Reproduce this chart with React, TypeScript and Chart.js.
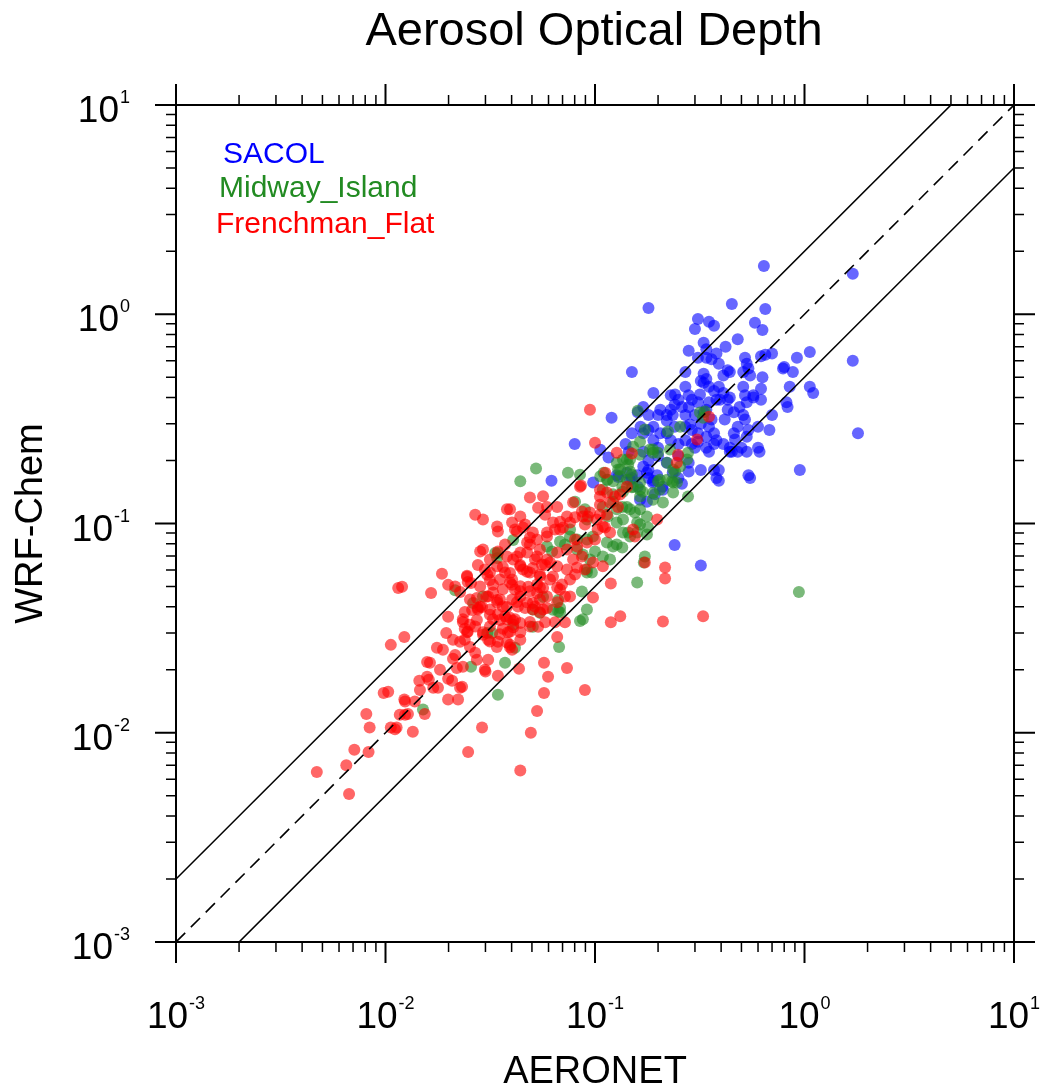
import React, { useEffect, useRef } from "react";
import { Chart, registerables } from "chart.js";

Chart.register(...registerables);

const TITLE = "Aerosol Optical Depth";
const X_TITLE = "AERONET";
const Y_TITLE = "WRF-Chem";
const AXIS_MIN = 0.001;
const AXIS_MAX = 10;
const TICK_EXPONENTS = ["-3", "-2", "-1", "0", "1"];
const MINOR_MULTIPLIERS = [2, 3, 4, 5, 6, 7, 8, 9];

const SITE_NAMES = ["SACOL", "Midway_Island", "Frenchman_Flat"];
const SITE_TEXT_COLORS = ["rgb(0,0,255)", "rgb(34,139,34)", "rgb(255,0,0)"];
const SITE_FILL_COLORS = ["rgba(0,0,255,0.6)", "rgba(34,139,34,0.6)", "rgba(255,0,0,0.6)"];

// [AERONET, WRF-Chem]
const SACOL: [number, number][] = [
  [0.64, 1.70], [1.70, 1.56], [0.45, 1.12], [0.18, 1.07], [0.65, 1.06], [0.31, 0.95], [0.35, 0.92], [0.37, 0.88],
  [0.30, 0.85], [0.58, 0.91], [0.63, 0.84], [0.48, 0.76], [0.33, 0.73], [0.42, 0.70], [0.28, 0.67], [0.34, 0.68],
  [1.06, 0.66], [0.92, 0.62], [0.62, 0.63], [0.65, 0.64], [0.70, 0.65], [0.52, 0.62], [0.31, 0.62], [0.36, 0.61],
  [0.38, 0.65], [0.34, 0.62], [0.39, 0.58], [0.43, 0.54], [0.53, 0.58], [1.70, 0.60], [0.80, 0.56], [0.88, 0.53],
  [0.15, 0.53], [0.27, 0.53], [0.33, 0.52], [0.34, 0.49], [0.32, 0.48], [0.41, 0.51], [0.44, 0.53], [0.51, 0.53],
  [0.55, 0.51], [0.54, 0.55], [0.63, 0.50], [0.79, 0.55], [1.06, 0.45], [1.10, 0.42], [0.85, 0.45], [0.62, 0.44],
  [0.52, 0.41], [0.57, 0.41], [0.19, 0.42], [0.23, 0.41], [0.82, 0.38], [0.83, 0.36], [0.62, 0.39], [0.70, 0.33],
  [0.68, 0.28], [0.60, 0.29], [0.12, 0.32], [0.08, 0.24], [1.80, 0.27], [0.95, 0.18], [0.54, 0.17], [0.55, 0.165],
  [0.39, 0.18], [0.39, 0.16], [0.60, 0.23], [0.61, 0.22], [0.50, 0.23], [0.45, 0.22], [0.32, 0.18], [0.32, 0.063],
  [0.062, 0.16], [0.24, 0.079], [0.27, 0.45], [0.28, 0.41], [0.25, 0.39], [0.26, 0.36], [0.29, 0.39], [0.31, 0.38],
  [0.33, 0.47], [0.35, 0.45], [0.37, 0.43], [0.39, 0.45], [0.41, 0.42], [0.38, 0.39], [0.43, 0.39], [0.44, 0.40],
  [0.51, 0.45], [0.53, 0.38], [0.57, 0.40], [0.49, 0.36], [0.51, 0.33], [0.43, 0.35], [0.46, 0.34], [0.35, 0.38],
  [0.34, 0.35], [0.33, 0.34], [0.28, 0.36], [0.30, 0.33], [0.27, 0.33], [0.24, 0.37], [0.23, 0.35], [0.235, 0.33],
  [0.205, 0.35], [0.20, 0.33], [0.22, 0.33], [0.17, 0.36], [0.16, 0.34], [0.18, 0.33], [0.165, 0.29], [0.18, 0.28],
  [0.17, 0.27], [0.19, 0.29], [0.205, 0.27], [0.22, 0.31], [0.24, 0.29], [0.27, 0.29], [0.29, 0.28], [0.32, 0.30],
  [0.35, 0.29], [0.31, 0.27], [0.34, 0.26], [0.37, 0.27], [0.38, 0.25], [0.37, 0.24], [0.41, 0.24], [0.44, 0.23],
  [0.46, 0.27], [0.48, 0.29], [0.53, 0.26], [0.54, 0.28], [0.53, 0.22], [0.44, 0.22], [0.48, 0.22], [0.31, 0.246],
  [0.34, 0.23], [0.35, 0.22], [0.27, 0.25], [0.29, 0.24], [0.30, 0.23], [0.25, 0.21], [0.28, 0.195], [0.28, 0.177],
  [0.37, 0.18], [0.38, 0.165], [0.22, 0.27], [0.23, 0.25], [0.25, 0.24], [0.19, 0.25], [0.20, 0.23], [0.15, 0.27],
  [0.14, 0.24], [0.145, 0.22], [0.17, 0.22], [0.18, 0.20], [0.18, 0.18], [0.20, 0.21], [0.22, 0.195], [0.235, 0.175],
  [0.25, 0.165], [0.26, 0.155], [0.18, 0.165], [0.19, 0.16], [0.21, 0.15], [0.15, 0.165], [0.16, 0.15], [0.098, 0.157],
  [0.127, 0.17], [0.142, 0.175], [0.159, 0.17], [0.177, 0.175], [0.198, 0.17], [0.164, 0.13], [0.177, 0.127], [0.193, 0.138],
  [0.106, 0.225], [0.116, 0.207], [0.129, 0.167], [0.147, 0.162], [0.17, 0.187], [0.189, 0.157], [0.211, 0.145],
  [0.317, 0.413], [0.36, 0.314], [0.416, 0.314], [0.466, 0.252], [0.284, 0.297], [0.241, 0.413], [0.395, 0.39], [0.52, 0.314],
];

const MIDWAY_ISLAND: [number, number][] = [
  [0.0523, 0.183], [0.044, 0.159], [0.0743, 0.175], [0.0848, 0.171], [0.110, 0.175], [0.127, 0.195], [0.147, 0.202], [0.164, 0.213],
  [0.189, 0.226], [0.142, 0.162], [0.152, 0.150], [0.164, 0.157], [0.122, 0.127], [0.135, 0.120], [0.147, 0.117], [0.109, 0.120],
  [0.115, 0.108], [0.127, 0.101], [0.136, 0.0906], [0.147, 0.0867], [0.177, 0.0886], [0.159, 0.101], [0.177, 0.108], [0.114, 0.0811],
  [0.122, 0.0776], [0.0978, 0.0867], [0.0915, 0.0839], [0.173, 0.0696], [0.159, 0.0523], [0.0915, 0.0583], [0.0866, 0.0473], [0.0875, 0.0349],
  [0.0848, 0.0342], [0.0667, 0.038], [0.0674, 0.0257], [0.0372, 0.0216], [0.0415, 0.0255], [0.0306, 0.030], [0.0262, 0.0417], [0.0292, 0.0448],
  [0.0215, 0.048], [0.0344, 0.0723], [0.0407, 0.0834], [0.0667, 0.0431], [0.063, 0.0387], [0.0505, 0.0321], [0.0546, 0.0374], [0.0803, 0.127],
  [0.0895, 0.117], [0.0915, 0.1045], [0.076, 0.0936], [0.0821, 0.0839], [0.164, 0.1345], [0.189, 0.130], [0.211, 0.126], [0.236, 0.1405],
  [0.204, 0.145], [0.221, 0.162], [0.236, 0.181], [0.246, 0.157], [0.0323, 0.030], [0.0256, 0.0207], [0.0344, 0.0152], [0.0151, 0.0129],
  [0.0505, 0.0388], [0.0565, 0.0446], [0.160, 0.346], [0.317, 0.339], [0.328, 0.320], [0.223, 0.275], [0.183, 0.226], [0.164, 0.246],
  [0.189, 0.218], [0.142, 0.202], [0.129, 0.181], [0.147, 0.177], [0.204, 0.162], [0.236, 0.157], [0.255, 0.187], [0.278, 0.218],
  [0.278, 0.1345], [0.106, 0.168], [0.164, 0.145], [0.173, 0.281], [0.152, 0.233], [0.255, 0.290], [0.335, 0.343], [0.200, 0.218],
  [0.228, 0.226], [0.221, 0.195], [0.241, 0.177], [0.136, 0.202], [0.144, 0.191], [0.132, 0.181], [0.15, 0.171], [0.20, 0.159],
  [0.233, 0.159], [0.114, 0.162], [0.122, 0.159], [0.135, 0.150], [0.169, 0.142], [0.189, 0.140], [0.275, 0.202], [0.115, 0.162],
  [0.132, 0.168], [0.109, 0.145], [0.122, 0.138], [0.136, 0.142], [0.15, 0.149], [0.127, 0.117], [0.142, 0.12], [0.155, 0.113],
  [0.164, 0.117], [0.136, 0.1045], [0.164, 0.0989], [0.179, 0.0957], [0.144, 0.0906], [0.159, 0.0906], [0.127, 0.0794], [0.135, 0.0768],
  [0.100, 0.0735], [0.109, 0.0696], [0.118, 0.0673], [0.0821, 0.0751], [0.0875, 0.0711], [0.0946, 0.0673], [0.076, 0.0867], [0.0681, 0.082],
  [0.0719, 0.0794], [0.059, 0.0776], [0.0624, 0.0735], [0.171, 0.0651], [0.0915, 0.0603], [0.0966, 0.0583], [0.0915, 0.0388], [0.0681, 0.0395],
  [0.0681, 0.0377], [0.0407, 0.0328], [0.0341, 0.0684], [0.0334, 0.0723], [0.94, 0.047],
];

const FRENCHMAN_FLAT: [number, number][] = [
  [0.0047, 0.0065], [0.0065, 0.0070], [0.0067, 0.0051], [0.0071, 0.0083], [0.0083, 0.0081], [0.0081, 0.0123], [0.0084, 0.0106], [0.0106, 0.0106],
  [0.0111, 0.0104], [0.0113, 0.0106], [0.0135, 0.0101], [0.0123, 0.0144], [0.0124, 0.0141], [0.0138, 0.0141], [0.0128, 0.0123], [0.0124, 0.0122],
  [0.0154, 0.0123], [0.0098, 0.0155], [0.0103, 0.0157], [0.0145, 0.0177], [0.0158, 0.0185], [0.0161, 0.0179], [0.0169, 0.0164], [0.0178, 0.0164],
  [0.0199, 0.0181], [0.0208, 0.0177], [0.0227, 0.0164], [0.0232, 0.0166], [0.0222, 0.0144], [0.0158, 0.0218], [0.0163, 0.0216], [0.021, 0.0226],
  [0.0234, 0.0207], [0.0219, 0.0204], [0.0298, 0.0200], [0.030, 0.0196], [0.0309, 0.0223], [0.0344, 0.0187], [0.0434, 0.0202], [0.0571, 0.0216],
  [0.0597, 0.0185], [0.0571, 0.0155], [0.0529, 0.0127], [0.0494, 0.0100], [0.0289, 0.0106], [0.0248, 0.0081], [0.0440, 0.0066], [0.0895, 0.0160],
  [0.0115, 0.0492], [0.0186, 0.0575], [0.0165, 0.0466], [0.0199, 0.0509], [0.0227, 0.047], [0.0245, 0.0563], [0.0256, 0.052], [0.0306, 0.0569],
  [0.0315, 0.0537], [0.0120, 0.0498], [0.0123, 0.0287], [0.0106, 0.0263], [0.0195, 0.030], [0.0176, 0.0255], [0.0188, 0.0249], [0.021, 0.0278],
  [0.0227, 0.0272], [0.0199, 0.0358], [0.0239, 0.0378], [0.0253, 0.0328], [0.0234, 0.0338], [0.0273, 0.0346], [0.0276, 0.0395], [0.0239, 0.0314],
  [0.0247, 0.0304], [0.0253, 0.0257], [0.0268, 0.0241], [0.0273, 0.0223], [0.0292, 0.0294], [0.0309, 0.0278], [0.0344, 0.0272], [0.034, 0.0257],
  [0.0393, 0.0263], [0.0402, 0.0249],
  [0.0363, 0.0619], [0.0393, 0.058], [0.044, 0.0634], [0.0474, 0.0588], [0.0505, 0.0613], [0.0546, 0.0569], [0.0578, 0.0634], [0.0326, 0.0509],
  [0.0363, 0.0485], [0.0402, 0.0509], [0.044, 0.0475], [0.048, 0.0498], [0.0529, 0.0466], [0.0565, 0.0492], [0.0341, 0.0431], [0.038, 0.0399],
  [0.0424, 0.0421], [0.0464, 0.0395], [0.0505, 0.0417], [0.0546, 0.0377], [0.059, 0.0395], [0.0315, 0.0366], [0.0352, 0.0346], [0.0393, 0.0354],
  [0.044, 0.0335], [0.0489, 0.0338], [0.0535, 0.0321], [0.0363, 0.0314], [0.0393, 0.0304], [0.0273, 0.0441], [0.0289, 0.0399], [0.0259, 0.0386],
  [0.0848, 0.150], [0.0565, 0.135], [0.0489, 0.133], [0.0535, 0.119], [0.059, 0.120], [0.066, 0.120], [0.0393, 0.117], [0.044, 0.108],
  [0.0268, 0.110], [0.0292, 0.1045], [0.0341, 0.0968], [0.0344, 0.0916], [0.0415, 0.0936], [0.0453, 0.0957], [0.0489, 0.0858], [0.0529, 0.0839],
  [0.0546, 0.0751], [0.059, 0.0906], [0.0644, 0.0936], [0.0703, 0.0957], [0.076, 0.101], [0.0803, 0.107], [0.0875, 0.108], [0.0946, 0.113],
  [0.102, 0.1045], [0.109, 0.0968], [0.118, 0.0906], [0.0786, 0.126], [0.0866, 0.114], [0.0735, 0.108], [0.0681, 0.102], [0.1056, 0.145],
  [0.114, 0.1405], [0.1246, 0.1345], [0.1316, 0.1375], [0.118, 0.126], [0.1288, 0.120], [0.1056, 0.123], [0.114, 0.110],
  [0.0283, 0.0735], [0.0344, 0.0735], [0.038, 0.0696], [0.0424, 0.0696], [0.0474, 0.0727], [0.0529, 0.0696], [0.059, 0.0673], [0.066, 0.0727],
  [0.0735, 0.0751], [0.0821, 0.0776], [0.0915, 0.0811], [0.100, 0.0839], [0.066, 0.0624], [0.0735, 0.0603], [0.0821, 0.0617], [0.0895, 0.0603],
  [0.0978, 0.0651], [0.109, 0.0624], [0.044, 0.0624], [0.0489, 0.0583], [0.0546, 0.0558], [0.061, 0.054], [0.0315, 0.0583], [0.0352, 0.054],
  [0.0393, 0.0523], [0.044, 0.0501], [0.0489, 0.0474], [0.0546, 0.0495], [0.059, 0.0448], [0.066, 0.0495], [0.0719, 0.0448], [0.0245, 0.0556],
  [0.0247, 0.0525], [0.0283, 0.050], [0.0215, 0.050], [0.0309, 0.0448], [0.0341, 0.0419], [0.0363, 0.0401], [0.0402, 0.0433], [0.044, 0.0448],
  [0.0474, 0.0419], [0.0517, 0.0401], [0.0565, 0.0388], [0.0315, 0.0388], [0.0344, 0.0368], [0.038, 0.0349], [0.0415, 0.0349], [0.0407, 0.0319],
  [0.044, 0.0302], [0.0234, 0.0349], [0.0245, 0.0302], [0.0268, 0.0322], [0.0276, 0.0388], [0.0315, 0.0322], [0.0352, 0.0296], [0.038, 0.027],
  [0.0393, 0.0256], [0.0644, 0.0337], [0.0719, 0.0337],
  [0.119, 0.0517], [0.173, 0.0651], [0.152, 0.0936], [0.155, 0.0867], [0.198, 0.1045], [0.216, 0.0616], [0.216, 0.0546], [0.211, 0.034],
  [0.119, 0.0337], [0.132, 0.036], [0.0978, 0.0443], [0.328, 0.036], [0.0735, 0.0204], [0.066, 0.0287],
  [0.0946, 0.35], [0.100, 0.243], [0.307, 0.252], [0.350, 0.324], [0.249, 0.213], [0.246, 0.195], [0.127, 0.218], [0.150, 0.216],
  [0.112, 0.175], [0.142, 0.150], [0.0857, 0.152],
  [0.1056, 0.1345], [0.038, 0.117], [0.0402, 0.101], [0.0424, 0.0916], [0.0292, 0.0751], [0.0298, 0.0603], [0.0341, 0.0624], [0.0303, 0.0448],
  [0.0283, 0.0401], [0.0292, 0.0302], [0.0315, 0.0273], [0.076, 0.054], [0.063, 0.0558], [0.0696, 0.0511], [0.0786, 0.0673], [0.0866, 0.0696],
  [0.103, 0.0936], [0.1116, 0.0957], [0.0926, 0.108], [0.063, 0.101], [0.059, 0.0867], [0.0505, 0.0906], [0.0474, 0.0811], [0.044, 0.0727],
  [0.0407, 0.0673], [0.0372, 0.0583], [0.0402, 0.054], [0.0453, 0.0603], [0.0517, 0.0673], [0.0558, 0.0637], [0.061, 0.0651], [0.0529, 0.0511],
  [0.0326, 0.0468], [0.0429, 0.0401], [0.0505, 0.0388], [0.0578, 0.0337], [0.0372, 0.036], [0.0407, 0.0343], [0.0326, 0.0349], [0.0489, 0.0322],
  [0.0384, 0.0302], [0.044, 0.0278], [0.0546, 0.0433], [0.066, 0.042], [0.076, 0.0448],
  [0.0315, 0.0673], [0.0372, 0.0794], [0.0464, 0.0989], [0.0578, 0.110], [0.0681, 0.0936], [0.0803, 0.0839], [0.0895, 0.0989], [0.1056, 0.110],
  [0.0681, 0.0484], [0.0803, 0.0571], [0.0489, 0.0794], [0.0415, 0.0484], [0.0352, 0.0433], [0.0253, 0.0433], [0.0276, 0.0634], [0.0239, 0.0278],
  [0.0215, 0.0235], [0.0182, 0.020], [0.0146, 0.0160], [0.0117, 0.0122], [0.0199, 0.0144],
];

// Reference lines: 1:1 (dashed) and factor-of-two envelope (solid)
const ONE_TO_ONE: [number, number][] = [[0.001, 0.001], [10, 10]];
const UPPER_FACTOR_TWO: [number, number][] = [[0.001, 0.002], [5, 10]];
const LOWER_FACTOR_TWO: [number, number][] = [[0.002, 0.001], [10, 5]];

const FONT = '"Liberation Sans", Arial, Helvetica, sans-serif';

const toPoints = (arr: [number, number][]) => arr.map(([x, y]) => ({ x, y }));

const framePlugin = {
  id: "nclFrame",
  afterDraw(chart: any) {
    const ctx: CanvasRenderingContext2D = chart.ctx;
    const { left, right, top, bottom } = chart.chartArea;
    const xs = chart.scales.x;
    const ys = chart.scales.y;
    ctx.save();
    ctx.strokeStyle = "#000";
    ctx.fillStyle = "#000";

    // frame
    ctx.lineWidth = 2;
    ctx.strokeRect(left, top, right - left, bottom - top);

    const majorVals = TICK_EXPONENTS.map((e) => Math.pow(10, Number(e)));
    const minorVals: number[] = [];
    majorVals.slice(0, -1).forEach((base) => MINOR_MULTIPLIERS.forEach((m) => minorVals.push(base * m)));

    const drawTicks = (vals: number[], len: number, width: number) => {
      ctx.lineWidth = width;
      ctx.beginPath();
      vals.forEach((v) => {
        const px = xs.getPixelForValue(v);
        ctx.moveTo(px, bottom);
        ctx.lineTo(px, bottom + len);
        ctx.moveTo(px, top);
        ctx.lineTo(px, top - len);
        const py = ys.getPixelForValue(v);
        ctx.moveTo(left, py);
        ctx.lineTo(left - len, py);
        ctx.moveTo(right, py);
        ctx.lineTo(right + len, py);
      });
      ctx.stroke();
    };
    drawTicks(minorVals, 10, 1.5);
    drawTicks(majorVals, 21, 2);

    // power-of-ten tick labels
    const drawPow = (exp: string, x: number, baseY: number, align: "center" | "right") => {
      ctx.textAlign = "left";
      ctx.textBaseline = "alphabetic";
      ctx.font = `37px ${FONT}`;
      const wb = ctx.measureText("10").width;
      ctx.font = `18px ${FONT}`;
      const we = ctx.measureText(exp).width;
      const total = wb + 1 + we;
      const start = align === "center" ? x - total / 2 : x - total;
      ctx.font = `37px ${FONT}`;
      ctx.fillText("10", start, baseY);
      ctx.font = `18px ${FONT}`;
      ctx.fillText(exp, start + wb + 1, baseY - 19);
    };
    TICK_EXPONENTS.forEach((e, i) => {
      const v = majorVals[i];
      drawPow(e, xs.getPixelForValue(v), 1028, "center");
      drawPow(e, 130, ys.getPixelForValue(v) + 17, "right");
    });

    // titles
    ctx.textAlign = "center";
    ctx.textBaseline = "alphabetic";
    ctx.font = `47px ${FONT}`;
    ctx.fillText(TITLE, (left + right) / 2 - 1, 45);
    ctx.font = `38px ${FONT}`;
    ctx.fillText(X_TITLE, (left + right) / 2, 1083);
    ctx.save();
    ctx.translate(42, (top + bottom) / 2);
    ctx.rotate(-Math.PI / 2);
    ctx.fillText(Y_TITLE, 0, 0);
    ctx.restore();

    // site labels
    ctx.textAlign = "left";
    ctx.font = `30px ${FONT}`;
    const labelX = [223, 219, 216];
    const labelY = [163, 197, 233];
    SITE_NAMES.forEach((name, i) => {
      ctx.fillStyle = SITE_TEXT_COLORS[i];
      ctx.fillText(name, labelX[i], labelY[i]);
    });
    ctx.restore();
  },
};

export default function App() {
  const canvasRef = useRef<HTMLCanvasElement | null>(null);

  useEffect(() => {
    if (!canvasRef.current) return;
    const pointStyle = (i: number, order: number) => ({
      backgroundColor: SITE_FILL_COLORS[i],
      borderColor: "rgba(0,0,0,0)",
      borderWidth: 0,
      pointRadius: 6,
      pointHoverRadius: 6,
      order,
    });
    const lineStyle = (dash: number[]) => ({
      type: "line" as const,
      showLine: true,
      borderColor: "#000",
      borderWidth: 1.6,
      borderDash: dash,
      pointRadius: 0,
      fill: false,
      order: 0,
    });
    const chart = new Chart(canvasRef.current, {
      type: "scatter",
      data: {
        datasets: [
          { label: "1:1", data: toPoints(ONE_TO_ONE), ...lineStyle([13, 8]) } as any,
          { label: "2x", data: toPoints(UPPER_FACTOR_TWO), ...lineStyle([]) } as any,
          { label: "0.5x", data: toPoints(LOWER_FACTOR_TWO), ...lineStyle([]) } as any,
          { label: SITE_NAMES[2], data: toPoints(FRENCHMAN_FLAT), ...pointStyle(2, 1) },
          { label: SITE_NAMES[1], data: toPoints(MIDWAY_ISLAND), ...pointStyle(1, 2) },
          { label: SITE_NAMES[0], data: toPoints(SACOL), ...pointStyle(0, 3) },
        ],
      },
      options: {
        animation: false,
        responsive: false,
        devicePixelRatio: 1,
        events: [],
        layout: { padding: { left: 176, top: 105, right: 30, bottom: 148 } },
        plugins: {
          legend: { display: false },
          title: { display: false },
          tooltip: { enabled: false },
        },
        scales: {
          x: { type: "logarithmic", min: AXIS_MIN, max: AXIS_MAX, display: false },
          y: { type: "logarithmic", min: AXIS_MIN, max: AXIS_MAX, display: false },
        },
      },
      plugins: [framePlugin],
    });
    return () => chart.destroy();
  }, []);

  return (
    <div style={{ position: "absolute", left: 0, top: 0, width: 1044, height: 1090, background: "#fff" }}>
      <canvas ref={canvasRef} width={1044} height={1090} style={{ display: "block" }} />
    </div>
  );
}
